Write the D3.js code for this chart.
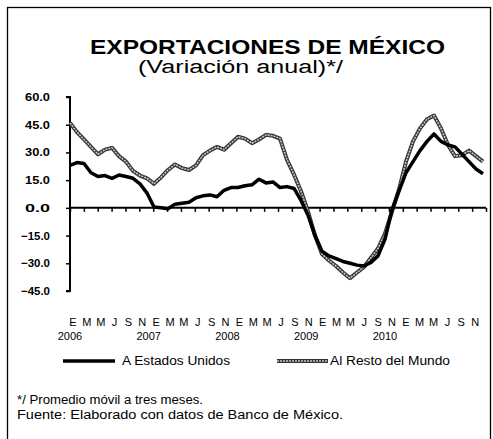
<!DOCTYPE html>
<html lang="es">
<head>
  <meta charset="UTF-8">
  <title>Exportaciones de México</title>
  <script src="https://d3js.org/d3.v7.min.js"></script>
  <style>
    body { margin: 0; background: #fff; }
    text { font-family: "Liberation Sans", Arial, sans-serif; fill: #000; }
  </style>
</head>
<body>
  <script>

    // monthly data, Jan 2006 .. Dec 2010 (3-month moving average, annual % change)
    var estadosUnidos = [
      23, 24.5, 24, 19, 17, 17.5, 16, 17.8, 17, 16, 13, 8,
      0.5, 0, -0.5, 2, 2.5, 3, 5.5, 6.5, 7, 6, 9.5, 11,
      11, 12, 12.5, 15.5, 13.5, 14, 11, 11.5, 10.5, 4, -4, -15,
      -23.5, -26, -27.5, -29, -30, -31, -31.5, -29.5, -26, -17, -1, 9,
      19, 25, 31, 36, 40, 36, 34, 33, 29, 25, 21, 18.5
    ];
    var restoMundo = [
      46, 41, 37, 33, 29, 31.5, 32.5, 28, 25, 20, 17.5, 16,
      13, 16.5, 20.5, 23.5, 21.5, 20.5, 23, 28.5, 31, 33, 31.5, 35,
      38.5, 37.5, 35, 37, 39.5, 39, 37.5, 26, 18, 9, -2, -15,
      -25, -28.5, -31.5, -35, -38, -35, -32, -27, -22, -14, -2, 10,
      25, 36, 43, 48, 50, 43, 34, 28, 28.5, 31, 28, 25
    ];
    var mesLabels = ["E", "M", "M", "J", "S", "N"];
    var years = ["2006", "2007", "2008", "2009", "2010"];
    var yTicks = [60, 45, 30, 15, 0, -15, -30, -45];
    var seriesNames = ["A Estados Unidos", "Al Resto del Mundo"];

    var W = 493, H = 439;

    var svg = d3.select("body").append("svg")
      .attr("width", W)
      .attr("height", H);

    // the scanned original has wide-set type, so stretch text to the measured widths
    function stretch(sel, w) {
      sel.attr("textLength", w).attr("lengthAdjust", "spacingAndGlyphs");
    }

    // outer frame
    svg.append("rect")
      .attr("x", 7.5).attr("y", 7.5)
      .attr("width", 483).attr("height", 440)
      .attr("fill", "none")
      .attr("stroke", "#000")
      .attr("stroke-width", 1.3);

    // titles
    svg.append("text")
      .attr("x", 90).attr("y", 54)
      .style("font-size", "21px")
      .style("font-weight", "bold")
      .text("EXPORTACIONES DE MÉXICO")
      .call(stretch, 355);

    svg.append("text")
      .attr("x", 138).attr("y", 73)
      .style("font-size", "18px")
      .text("(Variación anual)*/")
      .call(stretch, 205);

    // scales
    var x = d3.scaleLinear().domain([0, 59]).range([70, 483]);
    var y = d3.scaleLinear().domain([-45, 60]).range([291, 97]);

    // y axis
    var yAxis = svg.append("g")
      .attr("transform", "translate(70,0)")
      .call(d3.axisLeft(y).tickValues(yTicks).tickSize(4).tickFormat(d3.format(".1f")));
    yAxis.select(".domain").attr("stroke-width", 2).attr("d", "M-4," + y(60) + "H0V" + y(-45) + "H-4");
    yAxis.selectAll(".tick line").attr("stroke-width", 1.5);
    yAxis.selectAll(".tick text")
      .attr("x", -20)
      .style("font-size", "11px")
      .style("font-weight", "bold")
      .style("font-family", "Liberation Sans, Arial, sans-serif")
      .each(function (d) {
        d3.select(this).call(stretch, d < 0 ? 29 : 25);
      });

    // x axis at zero
    var monthTicks = d3.range(0, 61, 2);
    var xTick = d3.scaleLinear().domain([0, 60]).range([70, 486]);
    var xAxis = svg.append("g")
      .attr("transform", "translate(0," + y(0) + ")")
      .call(d3.axisBottom(xTick).tickValues(monthTicks).tickSize(4).tickFormat(""));
    xAxis.select(".domain").attr("stroke-width", 2).attr("d", "M70,0H486");
    xAxis.selectAll(".tick line").attr("stroke-width", 1.5);

    // month letters
    svg.append("g").selectAll("text")
      .data(d3.range(0, 60, 2))
      .enter().append("text")
      .attr("x", function (d) { return xTick(d) + 3; })
      .attr("y", 326)
      .attr("text-anchor", "middle")
      .style("font-size", "11px")
      .text(function (d) { return mesLabels[(d % 12) / 2]; });

    // year labels
    var yearX = d3.scaleLinear().domain([0, 4]).range([70, 385]);
    svg.append("g").selectAll("text")
      .data(years)
      .enter().append("text")
      .attr("x", function (d, i) { return yearX(i); })
      .attr("y", 340)
      .attr("text-anchor", "middle")
      .style("font-size", "11px")
      .text(function (d) { return d; });

    var line = d3.line()
      .x(function (d, i) { return x(i); })
      .y(function (d) { return y(d); });

    // Resto del Mundo: hatched grey line
    svg.append("path")
      .datum(restoMundo)
      .attr("fill", "none")
      .attr("stroke", "#333")
      .attr("stroke-width", 4)
      .attr("stroke-linejoin", "round")
      .attr("d", line);
    svg.append("path")
      .datum(restoMundo)
      .attr("fill", "none")
      .attr("stroke", "#c8c8c8")
      .attr("stroke-width", 1.6)
      .attr("stroke-dasharray", "2,1")
      .attr("stroke-linejoin", "round")
      .attr("d", line);

    // Estados Unidos: solid black
    svg.append("path")
      .datum(estadosUnidos)
      .attr("fill", "none")
      .attr("stroke", "#000")
      .attr("stroke-width", 3.5)
      .attr("stroke-linejoin", "round")
      .attr("d", line);

    // legend
    var leg = svg.append("g");
    leg.append("line")
      .attr("x1", 63).attr("x2", 115).attr("y1", 361).attr("y2", 361)
      .attr("stroke", "#000").attr("stroke-width", 3.5);
    leg.append("text")
      .attr("x", 122).attr("y", 365)
      .style("font-size", "12px")
      .text(seriesNames[0])
      .call(stretch, 108);
    leg.append("line")
      .attr("x1", 277).attr("x2", 328).attr("y1", 361).attr("y2", 361)
      .attr("stroke", "#333").attr("stroke-width", 4);
    leg.append("line")
      .attr("x1", 277).attr("x2", 328).attr("y1", 361).attr("y2", 361)
      .attr("stroke", "#c8c8c8").attr("stroke-width", 1.6).attr("stroke-dasharray", "2,1");
    leg.append("text")
      .attr("x", 330).attr("y", 365)
      .style("font-size", "12px")
      .text(seriesNames[1])
      .call(stretch, 120);

    // footnotes
    svg.append("text")
      .attr("x", 17).attr("y", 404)
      .style("font-size", "12.5px")
      .text("*/ Promedio móvil a tres meses.")
      .call(stretch, 186);
    svg.append("text")
      .attr("x", 17).attr("y", 419)
      .style("font-size", "12.5px")
      .text("Fuente: Elaborado con datos de Banco de México.")
      .call(stretch, 326);

  </script>
</body>
</html>
